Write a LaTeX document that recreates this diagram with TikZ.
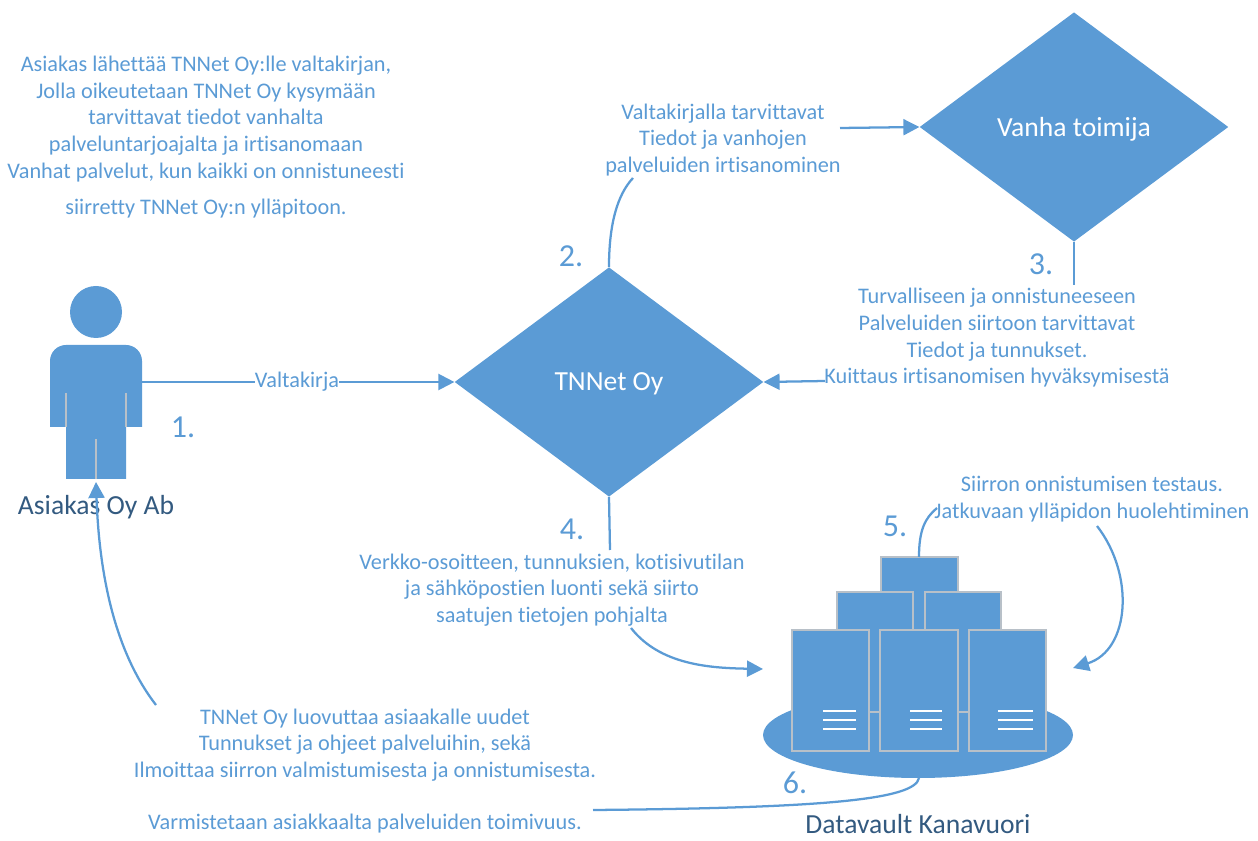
\documentclass[tikz,border=0pt]{standalone}
\usepackage{fontspec}
\setmainfont{Carlito}[Ligatures=NoCommon]
\usetikzlibrary{arrows.meta,shapes.geometric}
\definecolor{tnblue}{HTML}{5B9BD5}
\definecolor{tndark}{HTML}{335A80}
\definecolor{tnedge}{HTML}{B8C0C8}
\tikzset{
  flowtext/.style={text=tnblue,font=\fontsize{16.7}{20}\selectfont,align=center,inner sep=0pt},
  numlabel/.style={text=tnblue,font=\fontsize{24}{26}\selectfont,inner sep=0pt},
  iconlabel/.style={text=tndark,font=\fontsize{20.7}{22}\selectfont,inner sep=0pt},
  decision/.style={diamond,fill=tnblue,text=white,font=\fontsize{20.7}{22}\selectfont,inner sep=0pt,aspect=1.35,minimum width=231.5pt,minimum height=172pt,text depth=0pt},
  link/.style={draw=tnblue,line width=1.7pt},
  arrowlink/.style={link,-{Triangle[length=12pt,width=12pt]}},
  rack/.style={draw=tnedge,fill=tnblue,line width=0.9pt},
  vent/.style={draw=white,line width=1.1pt},
  seam/.style={draw=tnedge,line width=0.9pt}
}
\begin{document}
\begin{tikzpicture}[x=0.75pt,y=-0.75pt]
\useasboundingbox (0,0) rectangle (1258,841);
% person
\fill[tnblue] (96,312) circle (26);
\fill[tnblue,rounded corners=12pt] (50,427) [sharp corners] -- (50,400) [rounded corners=12pt] -- (50,345) -- (142,345) [sharp corners] -- (142,400) -- (142,427) -- (126,427) -- (126,479) -- (66,479) -- (66,427) -- cycle;
\draw[seam] (66,393) -- (66,427) (126,393) -- (126,427) (96,439) -- (96,479);
\coordinate (armr) at (142,382);
\coordinate (feet) at (96,482);
\node[iconlabel] (asiakas) at (96,507) {Asiakas Oy Ab};
% datacentre
\fill[tnblue] (918,735) ellipse (155 and 43);
\draw[rack] (881,557) rectangle (958,640);
\draw[rack] (837,592) rectangle (913,712);
\draw[rack] (925,592) rectangle (1001,712);
\draw[rack] (792,630) rectangle (869,751);
\draw[rack] (880,630) rectangle (958,751);
\draw[rack] (969,630) rectangle (1046,751);
\foreach \yy in {711,720,729}{
  \draw[vent] (823,\yy) -- (856,\yy);
  \draw[vent] (910,\yy) -- (942,\yy);
  \draw[vent] (998,\yy) -- (1033,\yy);
}
\coordinate (racktop) at (919,557);
\coordinate (ellbot) at (919,778);
\coordinate (rackleft) at (763,669);
\coordinate (rackright) at (1073,668);
\node[iconlabel] (datavault) at (918,824) {Datavault Kanavuori};
% decisions
\node[decision] (tnnet) at (609,382) {TNNet Oy};
\node[decision] (vanha) at (1074,127) {Vanha toimija};
% texts
\node[flowtext] (t0) at (206,137) {Asiakas lähettää TNNet Oy:lle valtakirjan,\\Jolla oikeutetaan TNNet Oy kysymään\\tarvittavat tiedot vanhalta\\palveluntarjoajalta ja irtisanomaan\\Vanhat palvelut, kun kaikki on onnistuneesti\\[7pt]siirretty TNNet Oy:n ylläpitoon.};
\node[flowtext] (t2) at (723,140) {Valtakirjalla tarvittavat\\Tiedot ja vanhojen\\palveluiden irtisanominen};
\node[flowtext] (t3) at (997,338) {Turvalliseen ja onnistuneeseen\\Palveluiden siirtoon tarvittavat\\Tiedot ja tunnukset.\\Kuittaus irtisanomisen hyväksymisestä};
\node[flowtext] (t4) at (552,590) {Verkko-osoitteen, tunnuksien, kotisivutilan\\ja sähköpostien luonti sekä siirto\\saatujen tietojen pohjalta};
\node[flowtext] (t5) at (1092,499) {Siirron onnistumisen testaus.\\Jatkuvaan ylläpidon huolehtiminen};
\node[flowtext] (t6) at (365,745) {TNNet Oy luovuttaa asiaakalle uudet\\Tunnukset ja ohjeet palveluihin, sekä\\Ilmoittaa siirron valmistumisesta ja onnistumisesta.};
\node[flowtext] (t7) at (365,824) {Varmistetaan asiakkaalta palveluiden toimivuus.};
% numbers
\node[numlabel] (n1) at (183,427) {1.};
\node[numlabel] (n2) at (571,256) {2.};
\node[numlabel] (n3) at (1041,264) {3.};
\node[numlabel] (n4) at (572,529) {4.};
\node[numlabel] (n5) at (895,526) {5.};
\node[numlabel] (n6) at (795,783) {6.};
% connectors
\coordinate (t2in) at (633,178);
\coordinate (t2out) at (840,128);
\coordinate (t3in) at (1074,285);
\coordinate (t3out) at (825,381);
\coordinate (t4in) at (610,550);
\coordinate (t4out) at (631,628);
\coordinate (t5in) at (937,508);
\coordinate (t5out) at (1097,526);
\coordinate (t7out) at (593,810);
\coordinate (t6out) at (156,705);
\draw[arrowlink] (armr) -- (tnnet.west);
\node[flowtext,fill=white] (valta) at (297,382) {Valtakirja};
\draw[link] (tnnet.north) .. controls (609,225) and (617,195) .. (t2in);
\draw[arrowlink] (t2out) -- (vanha.west);
\draw[link] (vanha.south) -- (t3in);
\draw[arrowlink] (t3out) -- (tnnet.east);
\draw[link] (tnnet.south) -- (t4in);
\draw[arrowlink] (t4out) .. controls (660,665) and (710,668) .. (rackleft);
\draw[link] (racktop) .. controls (919,530) and (925,518) .. (t5in);
\draw[arrowlink] (t5out) .. controls (1135,575) and (1130,650) .. (rackright);
\draw[link] (ellbot) .. controls (915,800) and (820,808) .. (t7out);
\draw[arrowlink] (t6out) .. controls (125,665) and (100,600) .. (feet);
\end{tikzpicture}
\end{document}
